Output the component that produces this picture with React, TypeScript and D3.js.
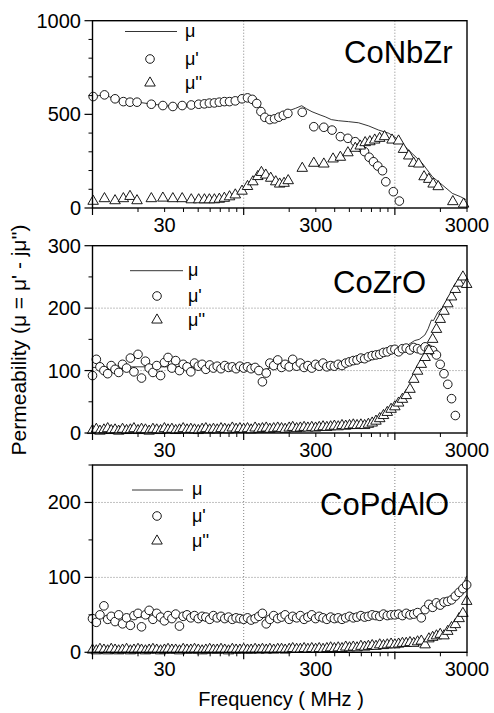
import React from "react";
import * as d3 from "d3";

// ---------- shared frequency grid (MHz) for dense panels ----------
const denseFreq = [10, 10.6, 11.2, 11.9, 12.6, 13.3, 14.1, 14.9, 15.8, 16.8, 17.8, 18.8, 20.0, 21.1, 22.4, 23.7, 25.1, 26.6, 28.2, 29.9, 31.6, 33.5, 35.5, 37.6, 39.8, 42.2, 44.7, 47.3, 50.1, 53.1, 56.2, 59.6, 63.1, 66.8, 70.8, 75.0, 79.4, 84.1, 89.1, 94.4,
  100, 106, 112, 119, 126, 133, 141, 149, 158, 168, 178, 188, 200, 211, 224, 237, 251, 266, 282, 299, 316, 335, 355, 376, 398, 422, 447, 473, 501, 531, 562, 596, 631, 668, 708, 750, 794, 841, 891, 944,
  1000, 1059, 1122, 1189, 1259, 1334, 1413, 1496, 1585, 1679, 1778, 1884, 1995, 2113, 2239, 2371, 2512, 2661, 2818, 2985];

// ---------- CoNbZr ----------
const nbzrRealFreq = [10.1, 12, 14.1, 16, 17.7, 19.7, 24.5, 29.2, 34, 39.2, 45, 50.4, 55, 59.3, 64, 69, 74.5, 80.6, 88, 97.5, 106, 114, 122, 130, 138, 149, 160, 171, 183, 196, 244, 291, 339, 384, 436, 489, 547, 590, 630, 676, 722, 771, 828, 871, 977, 1071];
const nbzrReal = [595, 604, 583, 568, 565, 565, 554, 547, 542, 547, 550, 554, 556, 560, 561, 565, 568, 568, 572, 583, 588, 580, 558, 515, 484, 472, 476, 485, 495, 505, 511, 434, 431, 416, 381, 372, 354, 325, 301, 271, 247, 224, 199, 140, 87, 37];
const nbzrImagFreq = [10.1, 12, 14.1, 16, 17.7, 19.7, 24.5, 29.2, 34, 39.2, 45, 50.4, 55, 59.3, 64, 69, 74.5, 80.6, 88, 97.5, 106, 115, 124, 131, 140, 151, 163, 173, 185, 197, 244, 291, 339, 390, 436, 489, 547, 590, 636, 683, 736, 793, 855, 958, 1058, 1140, 1236, 1331, 1438, 1560, 1676, 1790, 1935, 2417, 2850];
const nbzrImag = [36, 50, 39, 50, 62, 39, 50, 53, 50, 50, 44, 44, 44, 44, 44, 47, 52, 60, 70, 90, 115, 140, 168, 190, 176, 159, 140, 128, 132, 146, 212, 239, 235, 262, 271, 295, 319, 331, 349, 354, 363, 372, 381, 363, 358, 313, 278, 239, 235, 167, 153, 128, 114, 34, 21];
const nbzrAbsFreq = [10, 12, 14, 16, 20, 25, 30, 34, 40, 50, 60, 70, 80, 90, 100, 110, 118, 125, 135, 145, 155, 170, 185, 200, 220, 242, 260, 283, 320, 346, 380, 424, 494, 575, 672, 781, 912, 1005, 1110, 1297, 1514, 1770, 2060, 2400, 2720, 2950];
const nbzrAbs = [595, 604, 583, 568, 565, 554, 547, 542, 547, 554, 560, 565, 568, 572, 585, 590, 580, 560, 505, 485, 480, 490, 505, 520, 532, 546, 530, 514, 497, 487, 472, 466, 461, 455, 438, 416, 399, 377, 345, 292, 240, 167, 123, 78, 60, 45];

// ---------- CoZrO ----------
const zroReal = [92, 118, 106, 100, 95, 108, 102, 97, 110, 104,
  120, 98, 126, 88, 115, 104, 97, 108, 92, 113,
  121, 104, 116, 100, 110, 106, 98, 112, 107, 110,
  102, 109, 104, 107, 103, 108, 105, 106, 103, 107,
  104, 106, 103, 105, 100, 82, 96, 112, 108, 117,
  105, 110, 106, 118, 107, 112, 105, 108, 104, 110,
  107, 112, 106, 108, 107, 110, 108, 112, 114, 116,
  117, 120, 119, 122, 124, 125, 126, 129, 130, 133,
  134, 130, 135, 136, 133, 137, 135, 133, 138, 134,
  132, 125, 110, 95, 78, 55, 28];
const zroImag = [4, 6, 3, 5, 7, 4, 5, 3, 6, 4,
  5, 7, 4, 6, 5, 3, 6, 5, 4, 7,
  5, 6, 4, 5, 7, 5, 6, 5, 4, 6,
  7, 5, 6, 5, 7, 6, 5, 8, 6, 7,
  6, 7, 5, 8, 6, 7, 8, 6, 7, 8,
  7, 6, 8, 9, 7, 8, 9, 8, 9, 8,
  9, 10, 9, 10, 11, 10, 12, 11, 12, 13,
  12, 13, 12, 14, 16, 19, 23, 28, 33, 38,
  42, 48, 54, 60, 70, 86, 99, 110, 121, 132,
  150, 166, 182, 195, 207, 218, 230, 240, 250, 238];
const zroAbsFreq = [10, 20, 50, 100, 130, 150, 200, 300, 400, 500, 600, 700, 800, 900, 1000, 1100, 1200, 1350, 1450, 1580, 1660, 1745, 1800, 1930, 2050, 2250, 2350, 2490, 2600, 2720, 2850, 2985];
const zroAbs = [105, 106, 106, 105, 100, 104, 108, 108, 109, 114, 121, 126, 129, 132, 136, 138, 140, 148, 150, 157, 167, 181, 180, 194, 200, 207, 215, 229, 238, 245, 250, 243];

// ---------- CoPdAlO ----------
const pdaReal = [45, 40, 50, 62, 44, 48, 41, 50, 38, 46,
  36, 49, 52, 34, 50, 56, 44, 52, 47, 42,
  49, 45, 51, 35, 48, 50, 46, 49, 45, 48,
  47, 44, 49, 46, 48, 45, 47, 44, 46, 45,
  44, 46, 43, 45, 48, 52, 38, 44, 49, 45,
  47, 50, 44, 48, 46, 49, 44, 47, 50, 45,
  48, 46, 44, 47, 45, 46, 44, 46, 48, 46,
  47, 49, 47, 48, 50, 49, 48, 51, 49, 50,
  50, 51, 49, 52, 50, 51, 53, 46, 57, 64,
  60, 66, 63, 67, 68, 70, 75, 80, 85, 90];
const pdaImag = [3, 2, 4, 3, 2, 4, 3, 2, 3, 4,
  2, 3, 4, 3, 2, 3, 4, 3, 2, 3,
  4, 3, 3, 2, 4, 3, 3, 4, 3, 2,
  3, 4, 3, 3, 4, 3, 2, 4, 3, 3,
  4, 3, 3, 4, 3, 4, 3, 4, 3, 4,
  4, 3, 4, 5, 4, 4, 5, 4, 5, 4,
  5, 4, 5, 6, 5, 6, 5, 7, 6, 7,
  6, 8, 7, 8, 9, 8, 10, 9, 10, 11,
  10, 11, 12, 12, 13, 12, 14, 15, 10, 18,
  20, 22, 24, 22, 28, 33, 37, 45, 52, 68];
const pdaAbsFreq = [10, 30, 100, 300, 1000, 1400, 1600, 1800, 2000, 2200, 2400, 2600, 2800, 2985];
const pdaAbs = [47, 47, 46, 47, 50, 53, 58, 63, 66, 69, 74, 80, 88, 102];

// ---------- axes ticks ----------
const xMajorTicks = [10, 100, 1000];
const xMinorTicks = [20, 30, 40, 50, 60, 70, 80, 90, 200, 300, 400, 500, 600, 700, 800, 900, 2000, 3000];
const xTickLabels = [30, 300, 3000];
const xGridValues = [100, 1000];

const nbzrMajor = [0, 500, 1000];
const nbzrMinor = [100, 200, 300, 400, 600, 700, 800, 900];
const zroMajor = [0, 100, 200, 300];
const zroMinor = [50, 150, 250];
const pdaMajor = [0, 100, 200];
const pdaMinor = [50, 150, 250];

const legendLabels = ["\u03bc", "\u03bc'", "\u03bc''"];

const W = 494, HGT = 713;
const PLOT_LEFT = 92.5, PLOT_RIGHT = 467;
const PANEL_H = 187.3;
const FONT = "'Liberation Sans', Arial, Helvetica, sans-serif";

const xScale = d3.scaleLog().domain([10, 3000]).range([PLOT_LEFT, PLOT_RIGHT]);

const panels = [
  {
    name: "CoNbZr", top: 20.7, yMax: 1000, major: nbzrMajor, minor: nbzrMinor, hGrid: [] as number[],
    real: nbzrReal.map((v, i) => [nbzrRealFreq[i], v]),
    imag: nbzrImag.map((v, i) => [nbzrImagFreq[i], v]),
    abs: nbzrAbs.map((v, i) => [nbzrAbsFreq[i], v]),
    nameX: 344, nameY: 63,
    leg: { lineY: 31.5, x0: 125, x1: 177, mx: 150, cY: 59, tY: 83, textX: 185 },
  },
  {
    name: "CoZrO", top: 245.7, yMax: 300, major: zroMajor, minor: zroMinor, hGrid: [100, 200],
    real: zroReal.map((v, i) => [denseFreq[i], v]),
    imag: zroImag.map((v, i) => [denseFreq[i], v]),
    abs: zroAbs.map((v, i) => [zroAbsFreq[i], v]),
    nameX: 333, nameY: 293,
    leg: { lineY: 270.7, x0: 130, x1: 183, mx: 157, cY: 296, tY: 320, textX: 188 },
  },
  {
    name: "CoPdAlO", top: 465, yMax: 250, major: pdaMajor, minor: pdaMinor, hGrid: [100, 200],
    real: pdaReal.map((v, i) => [denseFreq[i], v]),
    imag: pdaImag.map((v, i) => [denseFreq[i], v]),
    abs: pdaAbs.map((v, i) => [pdaAbsFreq[i], v]),
    nameX: 320, nameY: 515,
    leg: { lineY: 490, x0: 132, x1: 183, mx: 157, cY: 516, tY: 541, textX: 192 },
  },
];

const triPath = d3.symbol().type(d3.symbolTriangle).size(48)() as string;

function Panel({ p }: { p: any }) {
  const y = d3.scaleLinear().domain([0, p.yMax]).range([p.top + PANEL_H, p.top]);
  const bottom = p.top + PANEL_H;
  const line = d3.line<number[]>().x((d) => xScale(d[0])).y((d) => y(d[1]));
  const L = p.leg;
  return (
    <g>
      {xGridValues.map((g) => (
        <line key={"vg" + g} x1={xScale(g)} x2={xScale(g)} y1={p.top} y2={bottom} stroke="#666" strokeWidth={0.8} strokeDasharray="1,2" />
      ))}
      {p.hGrid.map((g: number) => (
        <line key={"hg" + g} x1={PLOT_LEFT} x2={PLOT_RIGHT} y1={y(g)} y2={y(g)} stroke="#666" strokeWidth={0.8} strokeDasharray="1,2" />
      ))}
      <path d={line(p.abs) as string} fill="none" stroke="#000" strokeWidth={0.8} />
      {p.real.map((d: number[], i: number) => (
        <circle key={"c" + i} cx={xScale(d[0])} cy={y(d[1])} r={4.3} fill="#fff" stroke="#000" strokeWidth={0.9} />
      ))}
      {p.imag.map((d: number[], i: number) => (
        <path key={"t" + i} d={triPath} transform={`translate(${xScale(d[0])},${y(d[1])})`} fill="#fff" stroke="#000" strokeWidth={0.9} />
      ))}
      <rect x={PLOT_LEFT} y={p.top} width={PLOT_RIGHT - PLOT_LEFT} height={PANEL_H} fill="none" stroke="#000" strokeWidth={1.4} />
      {p.major.map((t: number) => (
        <g key={"ym" + t}>
          <line x1={PLOT_LEFT - 8} x2={PLOT_LEFT} y1={y(t)} y2={y(t)} stroke="#000" strokeWidth={1.2} />
          <text x={81} y={y(t) + 7} textAnchor="end" fontSize={20} fontFamily={FONT}>{t}</text>
        </g>
      ))}
      {p.minor.map((t: number) => (
        <line key={"yn" + t} x1={PLOT_LEFT - 4} x2={PLOT_LEFT} y1={y(t)} y2={y(t)} stroke="#000" strokeWidth={1} />
      ))}
      {xMajorTicks.map((t) => (
        <line key={"xm" + t} x1={xScale(t)} x2={xScale(t)} y1={bottom} y2={bottom + 7} stroke="#000" strokeWidth={1.2} />
      ))}
      {xMinorTicks.map((t) => (
        <line key={"xn" + t} x1={xScale(t)} x2={xScale(t)} y1={bottom} y2={bottom + 4} stroke="#000" strokeWidth={1} />
      ))}
      {xTickLabels.map((t) => (
        <text key={"xl" + t} x={xScale(t)} y={bottom + 24} textAnchor="middle" fontSize={20} fontFamily={FONT}>{t}</text>
      ))}
      <text x={p.nameX} y={p.nameY} fontSize={31} fontFamily={FONT}>{p.name}</text>
      <line x1={L.x0} x2={L.x1} y1={L.lineY} y2={L.lineY} stroke="#000" strokeWidth={0.8} />
      <circle cx={L.mx} cy={L.cY} r={4.3} fill="#fff" stroke="#000" strokeWidth={0.9} />
      <path d={triPath} transform={`translate(${L.mx},${L.tY})`} fill="#fff" stroke="#000" strokeWidth={0.9} />
      <text x={L.textX} y={L.lineY + 5} fontSize={18} fontFamily={FONT}>{legendLabels[0]}</text>
      <text x={L.textX} y={L.cY + 6} fontSize={18} fontFamily={FONT}>{legendLabels[1]}</text>
      <text x={L.textX} y={L.tY + 6} fontSize={18} fontFamily={FONT}>{legendLabels[2]}</text>
    </g>
  );
}

export default function App() {
  return (
    <svg width={W} height={HGT} style={{ position: "absolute", left: 0, top: 0, background: "#fff" }}>
      <rect width={W} height={HGT} fill="#fff" />
      {panels.map((p) => (
        <Panel key={p.name} p={p} />
      ))}
      <text transform="translate(26,340) rotate(-90)" textAnchor="middle" fontSize={21} fontFamily={FONT}>
        {"Permeability (\u03bc = \u03bc' - j\u03bc'')"}
      </text>
      <text x={281} y={706} textAnchor="middle" fontSize={20} fontFamily={FONT}>Frequency ( MHz )</text>
    </svg>
  );
}
